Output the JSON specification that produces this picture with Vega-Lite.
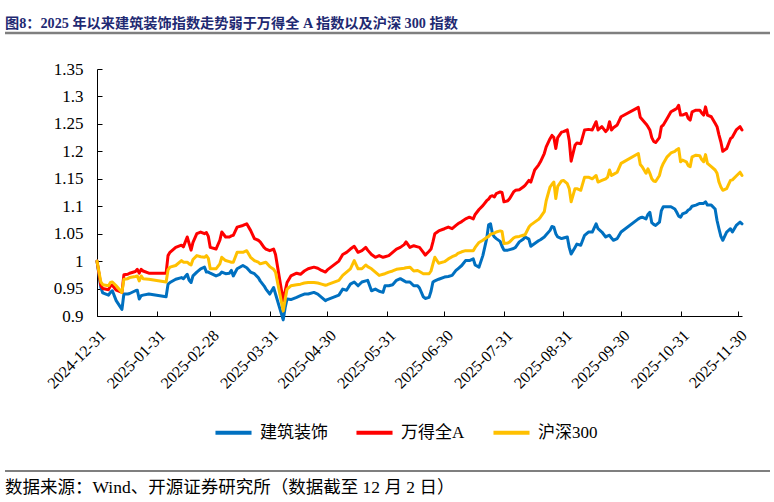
{
  "$schema": "https://vega.github.io/schema/vega-lite/v6.json",
  "width": 645,
  "height": 247,
  "autosize": "none",
  "padding": {"left": 97, "top": 69, "right": 32, "bottom": 186},
  "background": "white",
  "title": {
    "text": "图8：2025 年以来建筑装饰指数走势弱于万得全 A 指数以及沪深 300 指数",
    "anchor": "start",
    "frame": "group",
    "dx": -92,
    "offset": 1,
    "font": "Liberation Serif, Noto Sans CJK SC",
    "fontSize": 14.2,
    "fontWeight": "bold",
    "color": "#1F2A72"
  },
  "config": {
    "view": {"stroke": null},
    "font": "Liberation Serif, Noto Sans CJK SC",
    "axis": {
      "domainColor": "#000000",
      "tickColor": "#000000",
      "labelColor": "#000000",
      "labelFont": "Liberation Serif",
      "labelFontSize": 17,
      "grid": false,
      "tickSize": -5,
      "title": null
    }
  },
  "data": {
    "values": [
      {"d": "2024-12-31", "建筑装饰": 1.0, "万得全A": 1.0, "沪深300": 1.0},
      {"d": "2025-01-02", "建筑装饰": 0.952, "万得全A": 0.956, "沪深300": 0.962},
      {"d": "2025-01-03", "建筑装饰": 0.942, "万得全A": 0.95, "沪深300": 0.957},
      {"d": "2025-01-06", "建筑装饰": 0.938, "万得全A": 0.948, "沪深300": 0.955},
      {"d": "2025-01-07", "建筑装饰": 0.943, "万得全A": 0.955, "沪深300": 0.961},
      {"d": "2025-01-08", "建筑装饰": 0.946, "万得全A": 0.956, "沪深300": 0.962},
      {"d": "2025-01-10", "建筑装饰": 0.928, "万得全A": 0.947, "沪深300": 0.955},
      {"d": "2025-01-13", "建筑装饰": 0.912, "万得全A": 0.943, "沪深300": 0.943},
      {"d": "2025-01-14", "建筑装饰": 0.94, "万得全A": 0.975, "沪深300": 0.967},
      {"d": "2025-01-16", "建筑装饰": 0.94, "万得全A": 0.976, "沪深300": 0.968},
      {"d": "2025-01-17", "建筑装饰": 0.941, "万得全A": 0.978, "沪深300": 0.97},
      {"d": "2025-01-20", "建筑装饰": 0.946, "万得全A": 0.981, "沪深300": 0.972},
      {"d": "2025-01-21", "建筑装饰": 0.947, "万得全A": 0.985, "沪深300": 0.973},
      {"d": "2025-01-22", "建筑装饰": 0.931, "万得全A": 0.978, "沪深300": 0.964},
      {"d": "2025-01-23", "建筑装饰": 0.937, "万得全A": 0.985, "沪深300": 0.973},
      {"d": "2025-01-24", "建筑装饰": 0.938, "万得全A": 0.982, "沪深300": 0.968},
      {"d": "2025-01-27", "建筑装饰": 0.94, "万得全A": 0.978, "沪深300": 0.967},
      {"d": "2025-02-05", "建筑装饰": 0.935, "万得全A": 0.978, "沪深300": 0.962},
      {"d": "2025-02-06", "建筑装饰": 0.958, "万得全A": 1.01, "沪深300": 0.984},
      {"d": "2025-02-07", "建筑装饰": 0.961, "万得全A": 1.016, "沪深300": 0.989},
      {"d": "2025-02-10", "建筑装饰": 0.967, "万得全A": 1.025, "沪深300": 0.992},
      {"d": "2025-02-13", "建筑装饰": 0.97, "万得全A": 1.029, "沪深300": 1.001},
      {"d": "2025-02-14", "建筑装饰": 0.968, "万得全A": 1.026, "沪深300": 0.998},
      {"d": "2025-02-16", "建筑装饰": 0.976, "万得全A": 1.044, "沪深300": 0.998},
      {"d": "2025-02-17", "建筑装饰": 0.965, "万得全A": 1.032, "沪深300": 0.995},
      {"d": "2025-02-18", "建筑装饰": 0.961, "万得全A": 1.02, "沪深300": 0.993},
      {"d": "2025-02-19", "建筑装饰": 0.973, "万得全A": 1.034, "沪深300": 1.003},
      {"d": "2025-02-21", "建筑装饰": 0.98, "万得全A": 1.05, "沪深300": 1.01},
      {"d": "2025-02-23", "建筑装饰": 0.986, "万得全A": 1.053, "沪深300": 1.008},
      {"d": "2025-02-25", "建筑装饰": 0.989, "万得全A": 1.05, "沪深300": 1.007},
      {"d": "2025-02-26", "建筑装饰": 0.98, "万得全A": 1.052, "沪深300": 1.01},
      {"d": "2025-02-27", "建筑装饰": 0.98, "万得全A": 1.045, "沪深300": 1.005},
      {"d": "2025-02-28", "建筑装饰": 0.978, "万得全A": 1.025, "沪深300": 0.986},
      {"d": "2025-03-03", "建筑装饰": 0.973, "万得全A": 1.022, "沪深300": 0.986},
      {"d": "2025-03-05", "建筑装饰": 0.976, "万得全A": 1.038, "沪深300": 0.995},
      {"d": "2025-03-06", "建筑装饰": 0.98, "万得全A": 1.053, "沪深300": 1.007},
      {"d": "2025-03-08", "建筑装饰": 0.977, "万得全A": 1.044, "沪深300": 1.001},
      {"d": "2025-03-10", "建筑装饰": 0.978, "万得全A": 1.044, "沪深300": 0.999},
      {"d": "2025-03-11", "建筑装饰": 0.983, "万得全A": 1.046, "沪深300": 0.998},
      {"d": "2025-03-12", "建筑装饰": 0.973, "万得全A": 1.047, "沪深300": 0.998},
      {"d": "2025-03-14", "建筑装饰": 0.986, "万得全A": 1.062, "沪深300": 1.016},
      {"d": "2025-03-17", "建筑装饰": 0.992, "万得全A": 1.065, "沪深300": 1.016},
      {"d": "2025-03-19", "建筑装饰": 0.988, "万得全A": 1.068, "沪深300": 1.019},
      {"d": "2025-03-21", "建筑装饰": 0.98, "万得全A": 1.056, "沪深300": 1.007},
      {"d": "2025-03-23", "建筑装饰": 0.977, "万得全A": 1.041, "沪深300": 1.001},
      {"d": "2025-03-25", "建筑装饰": 0.97, "万得全A": 1.038, "沪深300": 0.998},
      {"d": "2025-03-26", "建筑装饰": 0.964, "万得全A": 1.035, "沪深300": 0.995},
      {"d": "2025-03-28", "建筑装饰": 0.955, "万得全A": 1.025, "沪深300": 0.997},
      {"d": "2025-03-29", "建筑装饰": 0.949, "万得全A": 1.022, "沪深300": 0.998},
      {"d": "2025-03-31", "建筑装饰": 0.94, "万得全A": 1.019, "沪深300": 0.99},
      {"d": "2025-04-02", "建筑装饰": 0.952, "万得全A": 1.022, "沪深300": 0.985},
      {"d": "2025-04-03", "建筑装饰": 0.94, "万得全A": 1.012, "沪深300": 0.98},
      {"d": "2025-04-07", "建筑装饰": 0.893, "万得全A": 0.928, "沪深300": 0.909},
      {"d": "2025-04-08", "建筑装饰": 0.915, "万得全A": 0.945, "沪深300": 0.93},
      {"d": "2025-04-09", "建筑装饰": 0.931, "万得全A": 0.961, "沪深300": 0.949},
      {"d": "2025-04-11", "建筑装饰": 0.93, "万得全A": 0.973, "沪深300": 0.955},
      {"d": "2025-04-14", "建筑装饰": 0.934, "万得全A": 0.978, "沪深300": 0.957},
      {"d": "2025-04-16", "建筑装饰": 0.937, "万得全A": 0.976, "沪深300": 0.958},
      {"d": "2025-04-18", "建筑装饰": 0.94, "万得全A": 0.982, "沪深300": 0.96},
      {"d": "2025-04-20", "建筑装饰": 0.94, "万得全A": 0.986, "沪深300": 0.961},
      {"d": "2025-04-23", "建筑装饰": 0.943, "万得全A": 0.989, "沪深300": 0.961},
      {"d": "2025-04-25", "建筑装饰": 0.94, "万得全A": 0.987, "沪深300": 0.96},
      {"d": "2025-04-27", "建筑装饰": 0.934, "万得全A": 0.983, "沪深300": 0.958},
      {"d": "2025-04-29", "建筑装饰": 0.928, "万得全A": 0.98, "沪深300": 0.956},
      {"d": "2025-04-30", "建筑装饰": 0.93, "万得全A": 0.984, "沪深300": 0.957},
      {"d": "2025-05-06", "建筑装饰": 0.938, "万得全A": 1.0, "沪深300": 0.965},
      {"d": "2025-05-08", "建筑装饰": 0.949, "万得全A": 1.012, "沪深300": 0.974},
      {"d": "2025-05-10", "建筑装饰": 0.947, "万得全A": 1.016, "沪深300": 0.98},
      {"d": "2025-05-12", "建筑装饰": 0.958, "万得全A": 1.022, "沪深300": 0.986},
      {"d": "2025-05-14", "建筑装饰": 0.962, "万得全A": 1.027, "沪深300": 1.001},
      {"d": "2025-05-16", "建筑装饰": 0.955, "万得全A": 1.016, "沪深300": 0.986},
      {"d": "2025-05-18", "建筑装饰": 0.962, "万得全A": 1.019, "沪深300": 0.986},
      {"d": "2025-05-20", "建筑装饰": 0.964, "万得全A": 1.025, "沪深300": 0.993},
      {"d": "2025-05-21", "建筑装饰": 0.965, "万得全A": 1.02, "沪深300": 0.99},
      {"d": "2025-05-23", "建筑装饰": 0.946, "万得全A": 1.012, "沪深300": 0.986},
      {"d": "2025-05-25", "建筑装饰": 0.949, "万得全A": 1.007, "沪深300": 0.98},
      {"d": "2025-05-27", "建筑装饰": 0.945, "万得全A": 1.01, "沪深300": 0.974},
      {"d": "2025-05-29", "建筑装饰": 0.943, "万得全A": 1.007, "沪深300": 0.976},
      {"d": "2025-05-30", "建筑装饰": 0.955, "万得全A": 1.008, "沪深300": 0.977},
      {"d": "2025-06-01", "建筑装饰": 0.955, "万得全A": 1.01, "沪深300": 0.98},
      {"d": "2025-06-03", "建筑装饰": 0.957, "万得全A": 1.016, "沪深300": 0.982},
      {"d": "2025-06-05", "建筑装饰": 0.965, "万得全A": 1.022, "沪深300": 0.985},
      {"d": "2025-06-07", "建筑装饰": 0.968, "万得全A": 1.025, "沪深300": 0.986},
      {"d": "2025-06-09", "建筑装饰": 0.964, "万得全A": 1.03, "沪深300": 0.987},
      {"d": "2025-06-10", "建筑装饰": 0.962, "万得全A": 1.035, "沪深300": 0.988},
      {"d": "2025-06-12", "建筑装饰": 0.962, "万得全A": 1.025, "沪深300": 0.989},
      {"d": "2025-06-14", "建筑装饰": 0.955, "万得全A": 1.028, "沪深300": 0.982},
      {"d": "2025-06-16", "建筑装饰": 0.955, "万得全A": 1.026, "沪深300": 0.983},
      {"d": "2025-06-17", "建筑装饰": 0.951, "万得全A": 1.025, "沪深300": 0.981},
      {"d": "2025-06-19", "建筑装饰": 0.935, "万得全A": 1.016, "沪深300": 0.977},
      {"d": "2025-06-20", "建筑装饰": 0.932, "万得全A": 1.011, "沪深300": 0.977},
      {"d": "2025-06-22", "建筑装饰": 0.934, "万得全A": 1.018, "沪深300": 0.977},
      {"d": "2025-06-23", "建筑装饰": 0.945, "万得全A": 1.022, "沪深300": 0.982},
      {"d": "2025-06-24", "建筑装饰": 0.962, "万得全A": 1.035, "沪深300": 0.995},
      {"d": "2025-06-25", "建筑装饰": 0.964, "万得全A": 1.05, "沪深300": 1.007},
      {"d": "2025-06-27", "建筑装饰": 0.967, "万得全A": 1.055, "沪深300": 0.996},
      {"d": "2025-06-30", "建筑装饰": 0.971, "万得全A": 1.059, "沪深300": 0.999},
      {"d": "2025-07-02", "建筑装饰": 0.972, "万得全A": 1.062, "沪深300": 1.004},
      {"d": "2025-07-04", "建筑装饰": 0.974, "万得全A": 1.059, "沪深300": 1.008},
      {"d": "2025-07-06", "建筑装饰": 0.983, "万得全A": 1.065, "沪深300": 1.011},
      {"d": "2025-07-07", "建筑装饰": 0.986, "万得全A": 1.068, "沪深300": 1.014},
      {"d": "2025-07-09", "建筑装饰": 0.992, "万得全A": 1.072, "沪深300": 1.017},
      {"d": "2025-07-11", "建筑装饰": 1.001, "万得全A": 1.077, "沪深300": 1.019},
      {"d": "2025-07-13", "建筑装饰": 1.001, "万得全A": 1.08, "沪深300": 1.019},
      {"d": "2025-07-15", "建筑装饰": 1.004, "万得全A": 1.077, "沪深300": 1.019},
      {"d": "2025-07-16", "建筑装饰": 0.993, "万得全A": 1.085, "沪深300": 1.025},
      {"d": "2025-07-18", "建筑装饰": 0.989, "万得全A": 1.094, "沪深300": 1.034},
      {"d": "2025-07-20", "建筑装饰": 1.01, "万得全A": 1.101, "沪深300": 1.038},
      {"d": "2025-07-22", "建筑装饰": 1.041, "万得全A": 1.11, "沪深300": 1.043},
      {"d": "2025-07-23", "建筑装饰": 1.066, "万得全A": 1.113, "沪深300": 1.045},
      {"d": "2025-07-24", "建筑装饰": 1.068, "万得全A": 1.118, "沪深300": 1.049},
      {"d": "2025-07-25", "建筑装饰": 1.05, "万得全A": 1.119, "沪深300": 1.05},
      {"d": "2025-07-26", "建筑装饰": 1.044, "万得全A": 1.117, "沪深300": 1.051},
      {"d": "2025-07-27", "建筑装饰": 1.041, "万得全A": 1.123, "沪深300": 1.053},
      {"d": "2025-07-29", "建筑装饰": 1.036, "万得全A": 1.126, "沪深300": 1.055},
      {"d": "2025-07-30", "建筑装饰": 1.027, "万得全A": 1.125, "沪深300": 1.054},
      {"d": "2025-07-31", "建筑装饰": 1.02, "万得全A": 1.108, "沪深300": 1.032},
      {"d": "2025-08-02", "建筑装饰": 1.02, "万得全A": 1.11, "沪深300": 1.033},
      {"d": "2025-08-03", "建筑装饰": 1.021, "万得全A": 1.114, "沪深300": 1.035},
      {"d": "2025-08-05", "建筑装饰": 1.023, "万得全A": 1.126, "沪深300": 1.042},
      {"d": "2025-08-06", "建筑装饰": 1.025, "万得全A": 1.129, "沪深300": 1.044},
      {"d": "2025-08-08", "建筑装饰": 1.035, "万得全A": 1.13, "沪深300": 1.045},
      {"d": "2025-08-10", "建筑装饰": 1.04, "万得全A": 1.135, "沪深300": 1.047},
      {"d": "2025-08-11", "建筑装饰": 1.044, "万得全A": 1.138, "沪深300": 1.048},
      {"d": "2025-08-13", "建筑装饰": 1.04, "万得全A": 1.147, "沪深300": 1.062},
      {"d": "2025-08-14", "建筑装饰": 1.027, "万得全A": 1.144, "沪深300": 1.066},
      {"d": "2025-08-16", "建筑装饰": 1.032, "万得全A": 1.166, "沪深300": 1.071},
      {"d": "2025-08-18", "建筑装饰": 1.037, "万得全A": 1.175, "沪深300": 1.076},
      {"d": "2025-08-19", "建筑装饰": 1.039, "万得全A": 1.181, "沪深300": 1.08},
      {"d": "2025-08-21", "建筑装饰": 1.044, "万得全A": 1.196, "沪深300": 1.09},
      {"d": "2025-08-22", "建筑装饰": 1.048, "万得全A": 1.208, "沪深300": 1.11},
      {"d": "2025-08-24", "建筑装饰": 1.056, "万得全A": 1.223, "沪深300": 1.135},
      {"d": "2025-08-25", "建筑装饰": 1.063, "万得全A": 1.229, "沪深300": 1.14},
      {"d": "2025-08-26", "建筑装饰": 1.062, "万得全A": 1.225, "沪深300": 1.144},
      {"d": "2025-08-27", "建筑装饰": 1.05, "万得全A": 1.205, "沪深300": 1.114},
      {"d": "2025-08-28", "建筑装饰": 1.044, "万得全A": 1.225, "沪深300": 1.136},
      {"d": "2025-08-30", "建筑装饰": 1.041, "万得全A": 1.235, "沪深300": 1.146},
      {"d": "2025-08-31", "建筑装饰": 1.042, "万得全A": 1.236, "沪深300": 1.147},
      {"d": "2025-09-02", "建筑装饰": 1.044, "万得全A": 1.239, "沪深300": 1.141},
      {"d": "2025-09-03", "建筑装饰": 1.025, "万得全A": 1.22, "沪深300": 1.132},
      {"d": "2025-09-04", "建筑装饰": 1.013, "万得全A": 1.182, "沪深300": 1.108},
      {"d": "2025-09-06", "建筑装饰": 1.025, "万得全A": 1.211, "沪深300": 1.132},
      {"d": "2025-09-07", "建筑装饰": 1.031, "万得全A": 1.215, "沪深300": 1.132},
      {"d": "2025-09-09", "建筑装饰": 1.029, "万得全A": 1.214, "沪深300": 1.129},
      {"d": "2025-09-11", "建筑装饰": 1.047, "万得全A": 1.239, "沪深300": 1.153},
      {"d": "2025-09-13", "建筑装饰": 1.053, "万得全A": 1.24, "沪深300": 1.153},
      {"d": "2025-09-15", "建筑装饰": 1.053, "万得全A": 1.239, "沪深300": 1.15},
      {"d": "2025-09-17", "建筑装饰": 1.068, "万得全A": 1.254, "沪深300": 1.156},
      {"d": "2025-09-18", "建筑装饰": 1.059, "万得全A": 1.239, "沪深300": 1.144},
      {"d": "2025-09-20", "建筑装饰": 1.053, "万得全A": 1.245, "沪深300": 1.147},
      {"d": "2025-09-22", "建筑装饰": 1.044, "万得全A": 1.236, "沪深300": 1.15},
      {"d": "2025-09-23", "建筑装饰": 1.046, "万得全A": 1.24, "沪深300": 1.153},
      {"d": "2025-09-24", "建筑装饰": 1.047, "万得全A": 1.254, "沪深300": 1.166},
      {"d": "2025-09-25", "建筑装饰": 1.042, "万得全A": 1.239, "沪深300": 1.156},
      {"d": "2025-09-26", "建筑装饰": 1.038, "万得全A": 1.243, "沪深300": 1.158},
      {"d": "2025-09-28", "建筑装饰": 1.041, "万得全A": 1.248, "沪深300": 1.162},
      {"d": "2025-09-30", "建筑装饰": 1.053, "万得全A": 1.263, "沪深300": 1.178},
      {"d": "2025-10-09", "建筑装饰": 1.077, "万得全A": 1.28, "沪深300": 1.196},
      {"d": "2025-10-10", "建筑装饰": 1.079, "万得全A": 1.262, "沪深300": 1.176},
      {"d": "2025-10-11", "建筑装饰": 1.08, "万得全A": 1.258, "沪深300": 1.172},
      {"d": "2025-10-13", "建筑装饰": 1.077, "万得全A": 1.25, "沪深300": 1.16},
      {"d": "2025-10-14", "建筑装饰": 1.085, "万得全A": 1.245, "沪深300": 1.168},
      {"d": "2025-10-15", "建筑装饰": 1.089, "万得全A": 1.239, "沪深300": 1.16},
      {"d": "2025-10-16", "建筑装饰": 1.07, "万得全A": 1.225, "沪深300": 1.15},
      {"d": "2025-10-17", "建筑装饰": 1.067, "万得全A": 1.218, "沪深300": 1.146},
      {"d": "2025-10-18", "建筑装饰": 1.065, "万得全A": 1.216, "沪深300": 1.145},
      {"d": "2025-10-20", "建筑装饰": 1.071, "万得全A": 1.225, "沪深300": 1.156},
      {"d": "2025-10-21", "建筑装饰": 1.092, "万得全A": 1.245, "沪深300": 1.17},
      {"d": "2025-10-22", "建筑装饰": 1.099, "万得全A": 1.248, "沪深300": 1.178},
      {"d": "2025-10-24", "建筑装饰": 1.099, "万得全A": 1.26, "沪深300": 1.19},
      {"d": "2025-10-26", "建筑装饰": 1.099, "万得全A": 1.272, "沪深300": 1.197},
      {"d": "2025-10-28", "建筑装饰": 1.095, "万得全A": 1.276, "沪深300": 1.2},
      {"d": "2025-10-29", "建筑装饰": 1.089, "万得全A": 1.278, "沪深300": 1.203},
      {"d": "2025-10-30", "建筑装饰": 1.082, "万得全A": 1.284, "沪深300": 1.205},
      {"d": "2025-10-31", "建筑装饰": 1.08, "万得全A": 1.266, "沪深300": 1.181},
      {"d": "2025-11-01", "建筑装饰": 1.086, "万得全A": 1.266, "沪深300": 1.184},
      {"d": "2025-11-03", "建筑装饰": 1.089, "万得全A": 1.269, "沪深300": 1.181},
      {"d": "2025-11-04", "建筑装饰": 1.093, "万得全A": 1.26, "沪深300": 1.174},
      {"d": "2025-11-05", "建筑装饰": 1.095, "万得全A": 1.257, "沪深300": 1.172},
      {"d": "2025-11-06", "建筑装饰": 1.1, "万得全A": 1.272, "沪深300": 1.19},
      {"d": "2025-11-08", "建筑装饰": 1.102, "万得全A": 1.275, "沪深300": 1.193},
      {"d": "2025-11-10", "建筑装饰": 1.105, "万得全A": 1.275, "沪深300": 1.192},
      {"d": "2025-11-11", "建筑装饰": 1.105, "万得全A": 1.27, "沪深300": 1.185},
      {"d": "2025-11-12", "建筑装饰": 1.105, "万得全A": 1.266, "沪深300": 1.181},
      {"d": "2025-11-13", "建筑装饰": 1.108, "万得全A": 1.281, "沪深300": 1.194},
      {"d": "2025-11-14", "建筑装饰": 1.102, "万得全A": 1.266, "沪深300": 1.178},
      {"d": "2025-11-16", "建筑装饰": 1.102, "万得全A": 1.263, "沪深300": 1.172},
      {"d": "2025-11-18", "建筑装饰": 1.095, "万得全A": 1.251, "沪深300": 1.166},
      {"d": "2025-11-19", "建筑装饰": 1.074, "万得全A": 1.245, "沪深300": 1.16},
      {"d": "2025-11-20", "建筑装饰": 1.059, "万得全A": 1.23, "沪深300": 1.144},
      {"d": "2025-11-21", "建筑装饰": 1.045, "万得全A": 1.217, "沪深300": 1.135},
      {"d": "2025-11-22", "建筑装饰": 1.038, "万得全A": 1.2, "沪深300": 1.129},
      {"d": "2025-11-24", "建筑装饰": 1.053, "万得全A": 1.205, "沪深300": 1.132},
      {"d": "2025-11-26", "建筑装饰": 1.059, "万得全A": 1.223, "沪深300": 1.147},
      {"d": "2025-11-27", "建筑装饰": 1.053, "万得全A": 1.226, "沪深300": 1.148},
      {"d": "2025-11-29", "建筑装饰": 1.065, "万得全A": 1.239, "沪深300": 1.155},
      {"d": "2025-12-01", "建筑装饰": 1.071, "万得全A": 1.245, "沪深300": 1.162},
      {"d": "2025-12-02", "建筑装饰": 1.068, "万得全A": 1.239, "沪深300": 1.156}
    ]
  },
  "layer": [
    {
      "transform": [
        {"fold": ["建筑装饰", "万得全A", "沪深300"], "as": ["series", "value"]}
      ],
      "mark": {"type": "line", "strokeWidth": 3, "strokeJoin": "round", "strokeCap": "round"},
      "encoding": {
        "x": {
          "field": "d",
          "type": "temporal",
          "scale": {"type": "utc", "domain": ["2024-12-31", "2025-12-02"]},
          "axis": {
            "values": ["2024-12-31", "2025-01-31", "2025-02-28", "2025-03-31", "2025-04-30", "2025-05-31", "2025-06-30", "2025-07-31", "2025-08-31", "2025-09-30", "2025-10-31", "2025-11-30"],
            "format": "%Y-%m-%d",
            "labelAngle": -45,
            "labelAlign": "right",
            "labelBaseline": "top",
            "labelPadding": 16,
            "labelOverlap": false,
            "labelFontSize": 16
          }
        },
        "y": {
          "field": "value",
          "type": "quantitative",
          "scale": {"domain": [0.9, 1.35], "nice": false, "zero": false},
          "axis": {
            "values": [0.9, 0.95, 1, 1.05, 1.1, 1.15, 1.2, 1.25, 1.3, 1.35],
            "format": ".2~f",
            "labelPadding": 19
          }
        },
        "color": {
          "field": "series",
          "type": "nominal",
          "scale": {
            "domain": ["建筑装饰", "万得全A", "沪深300"],
            "range": ["#0070C0", "#FF0000", "#FFC000"]
          },
          "legend": {
            "title": null,
            "orient": "none",
            "legendX": 116,
            "legendY": 343,
            "direction": "horizontal",
            "symbolType": "stroke",
            "symbolSize": 1300,
            "symbolStrokeWidth": 4,
            "labelFont": "Liberation Serif, Noto Sans CJK SC",
            "labelFontSize": 17,
            "labelColor": "#000000",
            "labelOffset": 6,
            "columnPadding": 20
          }
        }
      }
    },
    {
      "data": {"values": [{}]},
      "mark": {"type": "rule", "stroke": "#7F7F7F", "strokeWidth": 2.5},
      "encoding": {
        "x": {"value": -92},
        "x2": {"value": 673},
        "y": {"value": -36},
        "y2": {"value": -36}
      }
    },
    {
      "data": {"values": [{}]},
      "mark": {"type": "rule", "stroke": "#7F7F7F", "strokeWidth": 2},
      "encoding": {
        "x": {"value": -92},
        "x2": {"value": 673},
        "y": {"value": 402},
        "y2": {"value": 402}
      }
    },
    {
      "data": {"values": [{}]},
      "mark": {
        "type": "text",
        "text": "数据来源：Wind、开源证券研究所（数据截至 12 月 2 日）",
        "align": "left",
        "baseline": "middle",
        "font": "Liberation Serif, Noto Sans CJK SC",
        "fontSize": 17.5,
        "color": "#000000"
      },
      "encoding": {
        "x": {"value": -92},
        "y": {"value": 419}
      }
    }
  ]
}
